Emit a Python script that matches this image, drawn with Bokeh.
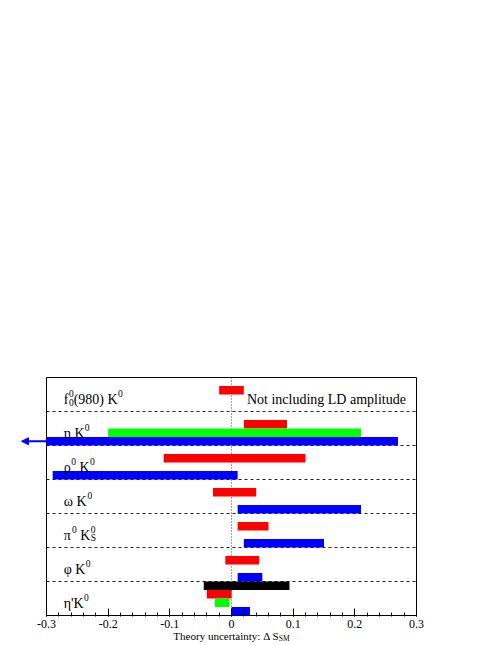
from bokeh.plotting import figure
from bokeh.models import Range1d, FixedTicker, Arrow, NormalHead, Label
from bokeh.embed import file_html
from bokeh.resources import INLINE

# ---- data ----
modes = ["f0(980) K0", "eta K0", "rho0 K0", "omega K0", "pi0 KS0", "phi K0", "eta' K0"]  # top -> bottom
red_modes = ["f0(980) K0", "eta K0", "rho0 K0", "omega K0", "pi0 KS0", "phi K0", "eta' K0"]
red_lo = [-0.02, 0.02, -0.11, -0.03, 0.01, -0.01, -0.04]
red_hi = [0.02, 0.09, 0.12, 0.04, 0.06, 0.045, 0.0]
blue_modes = ["eta K0", "rho0 K0", "omega K0", "pi0 KS0", "phi K0", "eta' K0"]
blue_lo = [-0.30, -0.29, 0.01, 0.02, 0.01, 0.0]
blue_hi = [0.27, 0.01, 0.21, 0.15, 0.05, 0.03]
green_modes = ["eta K0", "eta' K0"]
green_lo = [-0.20, -0.027]
green_hi = [0.21, -0.003]
black_modes = ["eta' K0"]
black_lo = [-0.045]
black_hi = [0.094]
x_ticks = [-0.3, -0.2, -0.1, 0.0, 0.1, 0.2, 0.3]
x_tick_labels = ["-0.3", "-0.2", "-0.1", "0", "0.1", "0.2", "0.3"]
x_minor = [round(-0.3 + 0.02 * k, 2) for k in range(31)]
note_text = "Not including LD amplitude"
axis_title = "Theory uncertainty: \u0394 S"
axis_title_sub = "SM"

# label pieces: (text, kind[, sub])
label_pieces = {
    "f0(980) K0": [("f", "m"), ("0", "supsub", "0"), ("(980) K", "m"), ("0", "sup")],
    "eta K0": [("\u03b7 K", "m"), ("0", "sup")],
    "rho0 K0": [("\u03c1", "m"), ("0", "sup"), (" K", "m"), ("0", "sup")],
    "omega K0": [("\u03c9 K", "m"), ("0", "sup")],
    "pi0 KS0": [("\u03c0", "m"), ("0", "sup"), (" K", "m"), ("0", "supsub", "S")],
    "phi K0": [("\u03c6 K", "m"), ("0", "sup")],
    "eta' K0": [("\u03b7'K", "m"), ("0", "sup")],
}

FONT = "Liberation Serif"
W = {'T': 611, 'h': 500, 'e': 444, 'o': 500, 'r': 333, 'y': 500, ' ': 250, 'u': 500, 'n': 500,
     'c': 444, 'a': 444, 'i': 278, 't': 278, ':': 278, '\u0394': 612, 'S': 556, 'M': 889,
     'f': 333, '(': 333, ')': 333, 'K': 722, "'": 180, '\u03b7': 500, '\u03c1': 500,
     '\u03c9': 690, '\u03c0': 550, '\u03c6': 560}
for d in "0123456789":
    W[d] = 500


def tw(s, size):
    return sum(W.get(ch, 500) for ch in s) * size / 1000.0


# ---- geometry of the box (-0.3..0.3 x 0..7) ----
PXX = 370.0 / 0.6      # px per x unit
PXY = 238.0 / 7.0      # px per y unit
ARROW_PX = 26          # room left of the box for the off-scale arrow
X0, X1 = -0.3, 0.3
NR = len(modes)

FW, FH = 498, 642
p = figure(width=FW, height=FH,
           x_range=Range1d(X0 - ARROW_PX / PXX, X1 + 1.0 / PXX),
           y_range=Range1d(0 - 1.0 / PXY, NR + 1.0 / PXY),
           output_backend="svg", toolbar_location=None,
           min_border_left=20, min_border_right=81, min_border_top=376, min_border_bottom=26)
p.background_fill_color = "white"
p.border_fill_color = "white"
p.outline_line_color = None
p.grid.visible = False
p.yaxis.visible = False

ax = p.xaxis[0]
ax.ticker = FixedTicker(ticks=x_ticks, minor_ticks=x_minor)
ax.major_label_overrides = {t: l for t, l in zip(x_ticks, x_tick_labels)}
ax.major_label_text_font = FONT
ax.major_label_text_font_size = "12px"
ax.major_label_text_color = "black"
ax.major_label_standoff = 3
ax.major_tick_in = 8
ax.major_tick_out = 0
ax.minor_tick_in = 4
ax.minor_tick_out = 0
ax.axis_line_color = None
ax.major_tick_line_color = "black"
ax.minor_tick_line_color = "black"

row_of = {m: NR - 1 - i for i, m in enumerate(modes)}
BAR_H = 0.245
slot = {"blue": 0.125, "green": 0.375, "red": 0.625, "black": 0.875}

# box, separators, zero line
p.quad(left=[X0], right=[X1], bottom=[0], top=[NR], fill_color=None, line_color="black", line_width=1)
seps = list(range(1, NR))
p.segment(x0=[X0] * len(seps), x1=[X1] * len(seps), y0=seps, y1=seps,
          line_color="#222222", line_dash="3 3", line_width=1)
p.segment(x0=[0.0], x1=[0.0], y0=[0], y1=[NR], line_color="#444444", line_dash="1 2", line_width=1)

cmap = {"red": "#ff0000", "blue": "#0000ff", "green": "#00ff00", "black": "#000000"}
for col, ms, lo, hi in [("red", red_modes, red_lo, red_hi),
                        ("blue", blue_modes, blue_lo, blue_hi),
                        ("green", green_modes, green_lo, green_hi),
                        ("black", black_modes, black_lo, black_hi)]:
    ys = [row_of[m] + slot[col] for m in ms]
    p.hbar(y=ys, left=lo, right=hi, height=BAR_H, fill_color=cmap[col], line_color=None)

# off-scale arrow for eta K0 blue bar
ya = row_of["eta K0"] + slot["blue"]
x_tip = X0 - 25.0 / PXX
p.add_layout(Arrow(end=NormalHead(size=7, fill_color="#0000ff", line_color="#0000ff", line_width=1),
                   x_start=X0, y_start=ya, x_end=x_tip, y_end=ya,
                   line_color="#0000ff", line_width=2))

# texts
MS, SS = 14, 9.5
LX = -0.272


def add_text(x, y, xo, txt, size, place=None):
    lead = len(txt) - len(txt.lstrip(" "))
    xo2 = xo + tw(" " * lead, size)
    lab = Label(x=x, y=y, x_offset=xo2, text=txt.lstrip(" "), text_font=FONT,
                text_font_size=f"{size}px", text_baseline="alphabetic",
                text_align="left", text_color="black")
    if place is None:
        p.add_layout(lab)
    else:
        p.add_layout(lab, place)


for m in modes:
    base = row_of[m] + 0.36
    xo = 0.0
    for piece in label_pieces[m]:
        txt, kind = piece[0], piece[1]
        if kind == "m":
            add_text(LX, base, xo, txt, MS)
            xo += tw(txt, MS)
        elif kind == "sup":
            add_text(LX, base + 5.5 / PXY, xo + 0.5, txt, SS)
            xo += tw(txt, SS) + 0.5
        else:
            sub = piece[2]
            add_text(LX, base + 5.5 / PXY, xo + 0.5, txt, SS)
            add_text(LX, base - 3.0 / PXY, xo + 0.5, sub, SS)
            xo += max(tw(txt, SS), tw(sub, SS)) + 0.5

add_text(0.025, row_of["f0(980) K0"] + 0.36, 0.0, note_text, MS)

# axis title (centred under the box); positioned in data units, attached to the
# roomy top panel only so that it is not clipped to the frame
TS, TSS = 11, 7.5
wt = tw(axis_title, TS)
ws = tw(axis_title_sub, TSS)
x0 = -(wt + ws) / 2.0
ty = -20.5 / PXY
add_text(0.0, ty, x0, axis_title, TS, "above")
add_text(0.0, ty - 2.5 / PXY, x0 + wt, axis_title_sub, TSS, "above")

open("out.html", "w").write(file_html(p, INLINE))
